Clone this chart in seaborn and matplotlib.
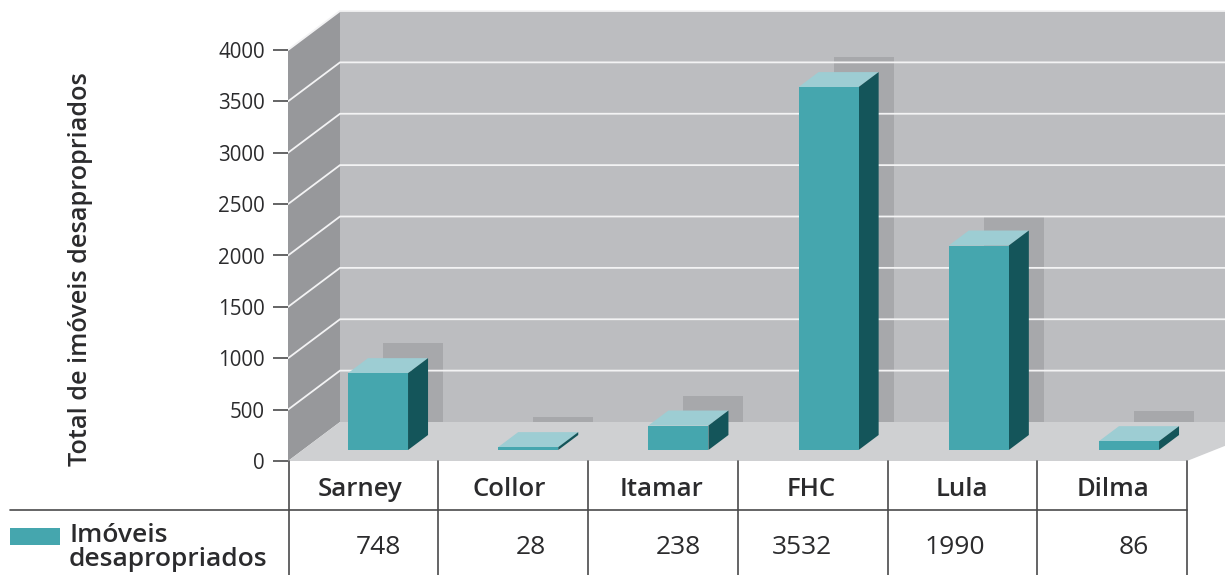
import matplotlib
matplotlib.use("Agg")
import matplotlib.pyplot as plt
import pandas as pd
import seaborn as sns
from matplotlib.patches import Polygon, Rectangle
from matplotlib.transforms import Affine2D

# Expropriated properties per presidential term
presidents = ["Sarney", "Collor", "Itamar", "FHC", "Lula", "Dilma"]
properties = [748, 28, 238, 3532, 1990, 86]
y_ticks = [0, 500, 1000, 1500, 2000, 2500, 3000, 3500, 4000]

# Table text centres, set by hand as in a typeset table
name_x = [360, 509, 661, 811, 962, 1113]
value_x = [378, 531, 678, 802, 955, 1134]
table_cols = [289, 438, 588, 738, 888, 1037, 1187]

W, H = 1225, 575
WALL, SIDE, FLOOR = "#bcbdc0", "#97989b", "#cfd0d2"
FRONT, TOP, DARK, SHADE = "#45a6ae", "#9dcdd3", "#14555a", "#a7a8ab"
INK, RULE = "#2b2b2d", "#4a4a4c"

sns.set_theme(style="white")
plt.rcParams["font.family"] = ["Open Sans", "DejaVu Sans"]

fig = plt.figure(figsize=(W / 100, H / 100), dpi=100, facecolor="white")

# Scenery layer measured in pixels from the top-left corner
bg = fig.add_axes([0, 0, 1, 1], zorder=0)
bg.set_xlim(0, W)
bg.set_ylim(H, 0)
bg.axis("off")

# Value axes: the front plane of the box
x0, x1, y0, y4k = 288, 1187, 461, 50
ax = fig.add_axes([x0 / W, 1 - y0 / H, (x1 - x0) / W, (y0 - y4k) / H], zorder=2)
ax.patch.set_alpha(0)

df = pd.DataFrame({"presidente": presidents, "imoveis": properties})
sns.barplot(data=df, x="presidente", y="imoveis", color=FRONT, saturation=1,
            width=0.4, linewidth=0, ax=ax, zorder=5)

first_bar_x, step = 378, 150.2
ax.set_xlim((x0 - first_bar_x) / step, (x1 - first_bar_x) / step)
ax.set_ylim(0, 4000)
ax.set_yticks(y_ticks)
ax.set_xticks([])
ax.set_xlabel("")
ax.set_ylabel("")
sns.despine(ax=ax, left=True, bottom=True)
ax.tick_params(axis="y", left=True, length=10.8, width=1.2, color=RULE, pad=6,
               labelsize=14.8, labelcolor=INK)

# Depth offsets of the box, in pixels
back_dx, back_dy = 52, 39
bar_lift = 11
top_dx, top_dy = 20, 15
shade_dx, shade_dy = 35, 30


def to_px(x, v):
    dx, dy = ax.transData.transform((x, v))
    return dx, H - dy


floor_y = y0 - back_dy
bg.add_patch(Rectangle((x0 + back_dx, y4k - back_dy), W, floor_y - y4k + back_dy,
                       fc=WALL, ec="none"))
bg.add_patch(Polygon([(x0, y4k), (x0 + back_dx, y4k - back_dy),
                      (x0 + back_dx, floor_y), (x0, y0)], fc=SIDE, ec="none"))
bg.add_patch(Polygon([(x0, y0), (x0 + back_dx, floor_y), (W + 60, floor_y),
                      (x1, y0)], fc=FLOOR, ec="none"))

# Cast shadows sit on the back wall, behind the grid lines
lift = Affine2D().translate(0, bar_lift)
for patch in ax.patches:
    left, right = patch.get_x(), patch.get_x() + patch.get_width()
    value = patch.get_height()
    xl, yt = to_px(left, value)
    xr, _ = to_px(right, value)
    yt -= bar_lift
    yb = y0 - bar_lift
    bg.add_patch(Rectangle((xl + shade_dx, yt - shade_dy), xr - xl,
                           floor_y - yt + shade_dy, fc=SHADE, ec="none", zorder=2))
    bg.add_patch(Polygon([(xl, yt), (xl + top_dx, yt - top_dy),
                          (xr + top_dx, yt - top_dy), (xr, yt)],
                         fc=TOP, ec="none", zorder=4))
    bg.add_patch(Polygon([(xr, yt), (xr + top_dx, yt - top_dy),
                          (xr + top_dx, yb - top_dy), (xr, yb)],
                         fc=DARK, ec="none", zorder=4))
    patch.set_transform(ax.transData + lift)
    patch.set_clip_on(False)

for tick in y_ticks:
    _, ty = to_px(0, tick)
    if tick > 0:
        bg.plot([x0, x0 + back_dx, W], [ty, ty - back_dy, ty - back_dy],
                color="#f3f3f4", lw=1.3, zorder=3, solid_joinstyle="miter")

# Data table under the box
for cx in table_cols:
    bg.plot([cx, cx], [y0, H], color=RULE, lw=1.2, zorder=1)
bg.plot([10, x1], [510, 510], color=RULE, lw=1.2, zorder=1)

for x, name in zip(name_x, presidents):
    bg.text(x, 490, name, ha="center", va="center", fontsize=18.5,
            fontweight="semibold", color=INK)
for x, value in zip(value_x, properties):
    bg.text(x, 548, str(value), ha="center", va="center", fontsize=19, color=INK)

bg.add_patch(Rectangle((10, 528), 50, 17, fc=FRONT, ec="none"))
bg.text(69, 535, "Imóveis", ha="left", va="center", fontsize=19,
        fontweight="semibold", color=INK)
bg.text(69, 560, "desapropriados", ha="left", va="center", fontsize=19,
        fontweight="semibold", color=INK)

bg.text(81, 269, "Total de imóveis desapropriados", rotation=90, ha="center",
        va="center", fontsize=18.2, fontweight="semibold", color=INK)

fig.savefig("out.png", dpi=100)
